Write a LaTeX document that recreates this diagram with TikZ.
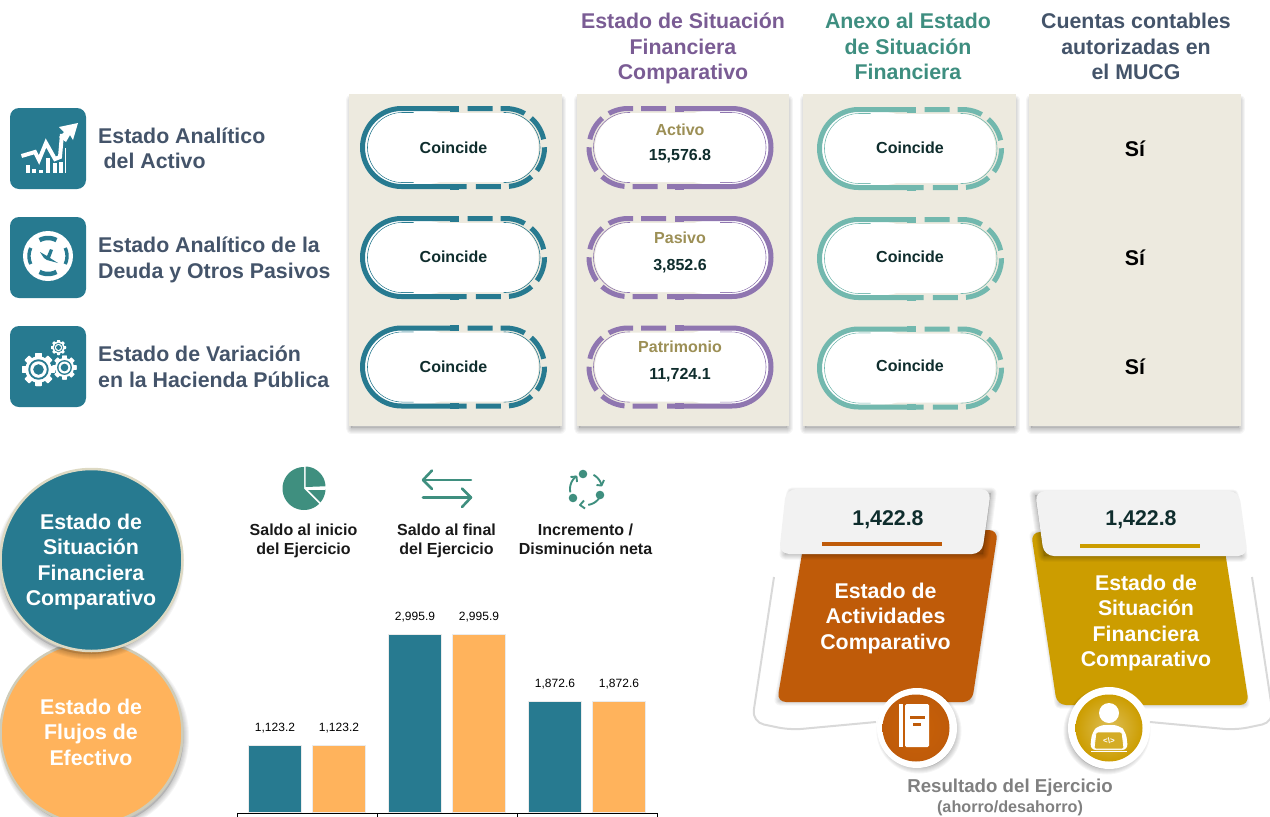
\documentclass[tikz,border=0pt]{standalone}
\usepackage{fontspec}
\setmainfont{Liberation Sans}
\definecolor{tealA}{HTML}{277A90}
\definecolor{slateT}{HTML}{44546A}
\definecolor{purpT}{HTML}{7A5C94}
\definecolor{purpP}{HTML}{8F76B0}
\definecolor{greenT}{HTML}{3E8E80}
\definecolor{aqua}{HTML}{72B8AE}
\definecolor{panelC}{HTML}{EDEADF}
\definecolor{oliveT}{HTML}{9C8F55}
\definecolor{inkT}{HTML}{0F2D2D}
\definecolor{pieG}{HTML}{3F8F7F}
\definecolor{orangeL}{HTML}{FFB35C}
\definecolor{rustC}{HTML}{BF5B09}
\definecolor{goldC}{HTML}{CC9D00}
\definecolor{rimC}{HTML}{DDD9C3}
\newcommand\softshadow[3]{%
  \begin{scope}[shift={(#1,#2)}]
    \foreach \wd in {1,3,5,7,9,11}{\draw[black,opacity=.04,line width=\wd pt,line join=round] #3;}
    \fill[black,opacity=.12] #3;
  \end{scope}}
\newcommand\pill[5]{% cx cy colour flip name
  \begin{scope}[shift={(#1,#2)},xscale=#4]
    \fill[white,rounded corners=36pt] (-88.5,-36.5) -- (10,-36.5) -- (10,36.5) -- (-88.5,36.5) -- cycle;
    \draw[#3,line width=5pt,rounded corners=39pt] (5,-39) -- (-91,-39) -- (-91,39) -- (13,39);
    \fill[#3] (-4,-42) rectangle (5,-36);
    \fill[#3] (-4,36) rectangle (5,42);
    \draw[#3,line width=5pt,rounded corners=39pt,dash pattern=on 25pt off 8pt] (14,-39) -- (91,-39) -- (91,39) -- (20,39);
    \draw[#3,line width=.6pt,rounded corners=35pt] (-40,-35) -- (-86,-35) -- (-86,35) -- (-40,35);
    \draw[#3,line width=.6pt,rounded corners=35pt] (50,-35) -- (86.5,-35) -- (86.5,35) -- (50,35);
    \fill[white,rounded corners=34pt] (-85,-34.5) rectangle (85,34.5);
  \end{scope}}
\newcommand\gearicon[3]{% cx cy r
  \begin{scope}[shift={(#1,#2)}]
    \foreach \ang in {0,45,...,315}{\fill[white,rotate=\ang,rounded corners=.6pt] (-.2*#3,-#3) rectangle (.2*#3,#3);}
    \fill[white] (0,0) circle[radius=.8*#3];
    \fill[tealA] (0,0) circle[radius=.62*#3];
    \fill[white] (0,0) circle[radius=.5*#3];
    \fill[tealA] (0,0) circle[radius=.32*#3];
  \end{scope}}
\tikzset{
  bfsans/.style={font=\fontsize{#1}{25.5}\selectfont\bfseries,align=center,inner sep=0pt},
  bfsans/.default=21.33,
  coltitle/.style={bfsans,text=#1},
  rowlabel/.style={bfsans,align=left,anchor=west,text=slateT},
  val/.style={font=\fontsize{16}{19}\selectfont\bfseries,text=inkT,inner sep=0pt},
  cat/.style={font=\fontsize{16}{19}\selectfont\bfseries,text=oliveT,inner sep=0pt},
  headlab/.style={font=\fontsize{16}{19}\selectfont\bfseries,align=center,inner sep=0pt,text=black!90},
  barlab/.style={font=\fontsize{12}{14}\selectfont,inner sep=0pt},
  whitetxt/.style={bfsans,text=white},
  iconbox/.style={fill=tealA,draw=none,rounded corners=9pt},
  panel/.style={fill=panelC,draw=none},
  iconw/.style={white,line width=4pt,line join=miter},
  pieline/.style={pieG,line width=2.6pt,line cap=round,line join=round},
  cycline/.style={pieG,line width=1.9pt,line join=round},
}
\begin{document}
\begin{tikzpicture}[x=1pt,y=-1pt]
\useasboundingbox (0,0) rectangle (1270,817);
% panels
\foreach \xa/\xb in {349/562,577/789,803/1016,1029/1241}{
  \softshadow{0}{3}{(\xa+2,97) rectangle (\xb-2,425)}
  \fill[panel] (\xa,94) rectangle (\xb,426);
}
% titles
\node[coltitle=purpT] (t1) at (683,48.5) {Estado de Situación\\Financiera\\Comparativo};
\node[coltitle=greenT] (t2) at (908,46.5) {Anexo al Estado\\de Situación\\Financiera};
\node[coltitle=slateT] (t3) at (1136,46.5) {Cuentas contables\\autorizadas en\\el MUCG};
% icon boxes
\fill[iconbox] (10,108) rectangle (86,189);
\fill[iconbox] (10,217) rectangle (86,298);
\fill[iconbox] (10,326) rectangle (86,407);
% icon 1: chart
\foreach \bx/\bt in {28/165,34/169,41/170,48/158,54.5/163,61/162}{\fill[white] (\bx-2,\bt) rectangle (\bx+2,173);}
\fill[white] (64.5,148) rectangle (66,173);
\draw[iconw] (21.5,156) -- (35,152) -- (39,160) -- (46,143) -- (55,159) -- (60,157) -- (62,134);
\fill[white] (78,123) -- (59,127) -- (64,132) -- (59,137) -- (66,142) -- (70,135) -- (73,140) -- cycle;
% icon 2: disc
\fill[white] (48,256) circle[radius=25];
\foreach \aa/\ab in {62/118,242/298}{\draw[tealA,line width=4.5pt] plot[domain=\aa:\ab,samples=14] ({48+18*cos(\x)},{256+18*sin(\x)});}
\foreach \aa/\ab in {155/205,-25/25}{\draw[tealA,line width=3.4pt] plot[domain=\aa:\ab,samples=14] ({48+19*cos(\x)},{256+19*sin(\x)});}
\fill[tealA] (40,252) -- (47,256) -- (50,249) -- (53,250) -- (50,258) -- (58,263) -- (47,260) -- (44,258) -- cycle;
% icon 3: gears
\gearicon{38.5}{369.5}{16.5}
\gearicon{64.5}{367.5}{12}
\gearicon{58.5}{347.5}{7.5}
% row labels
\node[rowlabel] (r1) at (98,148.5) {Estado Analítico\\\hspace*{5.5pt}del Activo};
\node[rowlabel] (r2) at (98,260) {Estado Analítico de la\\Deuda y Otros Pasivos};
\node[rowlabel] (r3) at (98,367) {Estado de Variación\\en la Hacienda Pública};
% pills
\pill{453.5}{147.5}{tealA}{1}{a}
\pill{453.5}{257.5}{tealA}{1}{b}
\pill{453.5}{367}{tealA}{1}{c}
\pill{680}{147.5}{purpP}{-1}{d}
\pill{680}{257.5}{purpP}{-1}{e}
\pill{680}{367}{purpP}{-1}{f}
\pill{910.5}{148.5}{aqua}{1}{g}
\pill{910.5}{258.5}{aqua}{1}{h}
\pill{910.5}{368}{aqua}{1}{i}
\node[val] (c1) at (453.5,147.5) {Coincide};
\node[val] (c2) at (453.5,256.5) {Coincide};
\node[val] (c3) at (453.5,366.5) {Coincide};
\node[cat] (p1) at (680,129.5) {Activo};
\node[val] (v1) at (680,156) {15,576.8};
\node[cat] (p2) at (680,237.5) {Pasivo};
\node[val] (v2) at (680,266) {3,852.6};
\node[cat] (p3) at (680,346.5) {Patrimonio};
\node[val] (v3) at (680,375) {11,724.1};
\node[val] (c4) at (910,147.5) {Coincide};
\node[val] (c5) at (910,256.5) {Coincide};
\node[val] (c6) at (910,365.5) {Coincide};
\node[bfsans,text=black] (s1) at (1135,149) {Sí};
\node[bfsans,text=black] (s2) at (1135,258) {Sí};
\node[bfsans,text=black] (s3) at (1135,367) {Sí};
% big circles
\softshadow{2}{4}{(91.5,733) circle[radius=90]}
\filldraw[fill=orangeL,draw=rimC!85!gray,line width=2.5pt] (91.5,733) circle[radius=91];
\softshadow{-2}{5}{(91.5,560) circle[radius=89]}
\filldraw[fill=tealA,draw=rimC,line width=2.5pt] (91.5,560) circle[radius=91];
\node[whitetxt] (cc1) at (91,562) {Estado de\\Situación\\Financiera\\Comparativo};
\node[whitetxt] (cc2) at (91,732) {Estado de\\Flujos de\\Efectivo};
% pie icon
\fill[pieG] (304,488.5) -- plot[domain=90:315,samples=40] ({304+21.5*cos(\x)},{488.5-21.5*sin(\x)}) -- cycle;
\fill[pieG] (305.5,487) -- plot[domain=88:2,samples=24] ({305+20.5*cos(\x)},{487-20.5*sin(\x)}) -- cycle;
\fill[pieG] (308,490) -- (325,490) -- plot[domain=-2:-40,samples=12] ({304+21.5*cos(\x)},{488.5-21.5*sin(\x)}) -- cycle;
% arrows icon
\draw[pieline] (471,480) -- (423,480);
\draw[pieline] (432,470.5) -- (423,480) -- (432,489);
\draw[pieline] (423,497.5) -- (471,497.5);
\draw[pieline] (462,488.5) -- (471,497.5) -- (462,507);
% cycle icon
\fill[pieG] (583,474) circle[radius=4.3];
\fill[pieG] (600,495) circle[radius=4.3];
\fill[pieG] (573,498) circle[radius=4.3];
\draw[cycline] plot[domain=62:14,samples=10] ({586+16*cos(\x)},{489-16*sin(\x)});
\draw[cycline] (596.5,485) -- (601.5,485.5) -- (604,480);
\draw[cycline] plot[domain=-30:-82,samples=10] ({586+16*cos(\x)},{489-16*sin(\x)});
\draw[cycline] (584,500.5) -- (580,505) -- (585,508.5);
\draw[cycline] plot[domain=192:128,samples=10] ({586+16*cos(\x)},{489-16*sin(\x)});
\draw[cycline] (570.5,477) -- (576.5,476.5) -- (577,482);
% header labels
\node[headlab] (h1) at (303.5,541) {Saldo al inicio\\del Ejercicio};
\node[headlab] (h2) at (446.5,541) {Saldo al final\\del Ejercicio};
\node[headlab] (h3) at (585.5,539) {Incremento /\\Disminución neta};
% bars
\foreach \xa/\yt/\lab/\n in {249/746/{1,123.2}/a,389/635/{2,995.9}/b,529/702/{1,872.6}/c}{
  \fill[black,opacity=.08] (\xa-1,\yt-1) rectangle (\xa+53,813);
  \fill[tealA] (\xa,\yt) rectangle (\xa+52,812);
  \fill[black,opacity=.08] (\xa+63,\yt-1) rectangle (\xa+117,813);
  \fill[orangeL] (\xa+64,\yt) rectangle (\xa+116,812);
  \node[barlab] (bl\n) at (\xa+26,\yt-17.5) {\lab};
  \node[barlab] (br\n) at (\xa+90,\yt-17.5) {\lab};
}
% axis
\draw[black,line width=1pt] (237,817) -- (237,813) -- (657,813) -- (657,817);
\draw[black,line width=1pt] (377,813) -- (377,817) (517,813) -- (517,817);
% brackets
\draw[black!15,line width=2pt,rounded corners=12pt] (774,577) -- (752,722) -- (790,730) -- (876,722);
\draw[black!15,line width=2pt,rounded corners=12pt] (1252,577) -- (1274,722) -- (1236,730) -- (1150,722) ;
% rust shape
\softshadow{0}{0}{(806,555) -- (994,535) -- (970,700) -- (780,700) -- cycle}
\fill[rustC,rounded corners=9pt] (806,530) -- (998,530) -- (972,702) -- (777,702) -- cycle;
\softshadow{3}{2}{(789,491) -- (988,491) -- (980,552) -- (782,552) -- cycle}
\fill[black!5,rounded corners=10pt] (786,489) -- (991,489) -- (982,554) -- (779,554) -- cycle;
\fill[rustC] (822,542) rectangle (942,546);
\node[bfsans,text=inkT] (n1) at (888,519.5) {1,422.8};
\node[whitetxt] (o1) at (885.5,618) {Estado de\\Actividades\\Comparativo};
% gold shape
\softshadow{0}{0}{(1035,536) -- (1220,555) -- (1244,703) -- (1060,703) -- cycle}
\fill[goldC,rounded corners=9pt] (1031,532) -- (1222,532) -- (1249,705) -- (1057,705) -- cycle;
\softshadow{-3}{2}{(1038,493) -- (1236,493) -- (1245,554) -- (1047,554) -- cycle}
\fill[black!5,rounded corners=10pt] (1035,491) -- (1239,491) -- (1248,556) -- (1044,556) -- cycle;
\fill[goldC] (1080,544) rectangle (1200,548);
\node[bfsans,text=inkT] (n2) at (1141,519.5) {1,422.8};
\node[whitetxt] (o2) at (1146,623) {Estado de\\Situación\\Financiera\\Comparativo};
% icon circles
\softshadow{2}{3}{(917,728) circle[radius=37]}
\fill[white] (917,728) circle[radius=40];
\shade[inner color=rustC!85!orange,outer color=rustC] (916,728) circle[radius=33.5];
\fill[white] (899,704) rectangle (903,747);
\fill[white,rounded corners=1.5pt] (905,704) rectangle (929,747);
\fill[rustC] (910,716) rectangle (925,719);
\fill[rustC] (913,723) rectangle (921,725.5);
\softshadow{-2}{3}{(1109,728) circle[radius=38]}
\fill[white] (1109,728) circle[radius=41];
\shade[inner color=goldC!65!white,outer color=goldC] (1109,728) circle[radius=33.5];
\fill[white] (1109,713) circle[radius=10];
\fill[white,rounded corners=6pt] (1090,750) -- (1092,732) -- (1099,725) -- (1119,725) -- (1126,732) -- (1128,750) -- cycle;
\draw[white,line width=1.5pt] (1091,751.5) -- (1127,751.5);
\filldraw[fill=goldC!85!white,draw=white,line width=.8pt,rounded corners=1.5pt] (1094,749) -- (1096,732) -- (1122,732) -- (1124,749) -- cycle;
\node[font=\fontsize{8}{9}\selectfont\bfseries,text=white,inner sep=0pt] (code) at (1109,741) {<\textbackslash>};
% footer
\node[bfsans=18.67,text=black!50] (f1) at (1010,788) {Resultado del Ejercicio};
\node[font=\fontsize{16.2}{18}\selectfont\bfseries,text=black!50,inner sep=0pt] (f2) at (1010,808) {(ahorro/desahorro)};
\end{tikzpicture}
\end{document}
